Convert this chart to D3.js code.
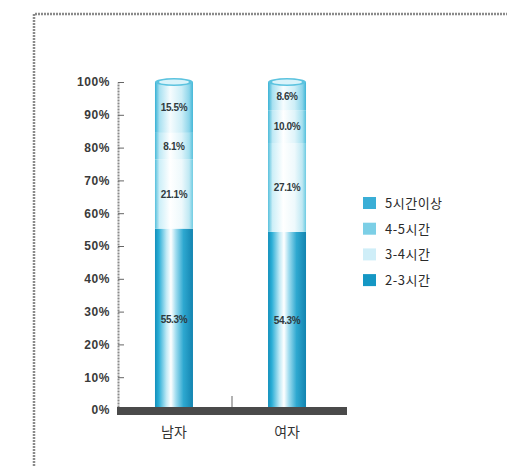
<!DOCTYPE html>
<html><head><meta charset="utf-8">
<script src="https://cdn.jsdelivr.net/npm/d3@7"></script>
<style>body{margin:0;background:#fff;}svg{display:block;}</style>
</head><body>
<svg id="c" width="507" height="466"></svg>
<script>
const categories = ["남자", "여자"];
const seriesNames = ["2-3시간", "3-4시간", "4-5시간", "5시간이상"];
const values = {
  "2-3시간": [55.3, 54.3],
  "3-4시간": [21.1, 27.1],
  "4-5시간": [8.1, 10.0],
  "5시간이상": [15.5, 8.6]
};
const yTicks = [0, 10, 20, 30, 40, 50, 60, 70, 80, 90, 100];
const legendOrder = ["5시간이상", "4-5시간", "3-4시간", "2-3시간"];

const svg = d3.select("#c");
const defs = svg.append("defs");

// frame
svg.append("path").attr("d", "M34,466 V14 H507")
  .attr("fill", "none").attr("stroke", "#8a8a8a").attr("stroke-width", 2.5)
  .attr("stroke-dasharray", "2,1");

const x = d3.scaleBand().domain(categories).range([117, 344]).paddingInner(0.664).paddingOuter(0.336);
const y = d3.scaleLinear().domain([0, 100]).range([410, 82]);

const grad = {
  "2-3시간": [[0, "#128fbb"], [0.1, "#2aaed6"], [0.3, "#bfe9f5"], [0.42, "#ffffff"], [0.55, "#9fdcef"], [0.75, "#2ea8d0"], [1, "#1384b0"]],
  "3-4시간": [[0, "#55bfdc"], [0.12, "#cdeff8"], [0.4, "#ffffff"], [0.7, "#eef9fc"], [0.9, "#bfe8f3"], [1, "#6ccbe2"]],
  "4-5시간": [[0, "#47b9d8"], [0.12, "#bfe9f5"], [0.4, "#ffffff"], [0.7, "#dff4fa"], [0.9, "#a6e0ef"], [1, "#55c0dc"]],
  "5시간이상": [[0, "#35b0d4"], [0.12, "#a9e1f1"], [0.4, "#f6fcfe"], [0.7, "#cdeef7"], [0.9, "#8cd5ea"], [1, "#3fb5d6"]]
};
const legendColor = {"5시간이상": "#3aaed6", "4-5시간": "#7ccfe6", "3-4시간": "#cfeef8", "2-3시간": "#1597c4"};

seriesNames.forEach((s, i) => {
  const g = defs.append("linearGradient").attr("id", "g" + i).attr("x1", 0).attr("x2", 1).attr("y1", 0).attr("y2", 0);
  grad[s].forEach(([o, c]) => g.append("stop").attr("offset", o).attr("stop-color", c));
});

const stack = d3.stack().keys(seriesNames)(categories.map((c, ci) => {
  const o = {cat: c};
  seriesNames.forEach(s => o[s] = values[s][ci]);
  return o;
}));

// y axis
const yAxis = d3.axisLeft(y).tickValues(yTicks).tickFormat(d => d + "%").tickSizeInner(-6).tickSizeOuter(0).tickPadding(8);
const ya = svg.append("g").attr("transform", "translate(118,0)").call(yAxis);
ya.select(".domain").attr("stroke", "#8a8a8a").attr("stroke-width", 2).attr("stroke-dasharray", "2,1");
ya.selectAll(".tick line").attr("stroke", "#666").attr("stroke-width", 1);
ya.selectAll(".tick text").attr("font-family", "Liberation Sans, Arial, sans-serif").attr("font-size", 12)
  .attr("font-weight", "bold").attr("fill", "#3a3a3a").attr("letter-spacing", 0.6);

// bars
const bars = svg.append("g");
stack.forEach((layer, li) => {
  bars.selectAll(null).data(layer).enter().append("rect")
    .attr("x", d => x(d.data.cat))
    .attr("width", x.bandwidth())
    .attr("y", d => y(d[1]))
    .attr("height", d => y(d[0]) - y(d[1]))
    .attr("fill", "url(#g" + li + ")");
});
// cylinder tops
bars.selectAll(null).data(stack[stack.length - 1]).enter().append("ellipse")
  .attr("cx", d => x(d.data.cat) + x.bandwidth() / 2)
  .attr("cy", d => y(d[1]))
  .attr("rx", x.bandwidth() / 2)
  .attr("ry", 4)
  .attr("fill", "#5cc3df");
bars.selectAll(null).data(stack[stack.length - 1]).enter().append("ellipse")
  .attr("cx", d => x(d.data.cat) + x.bandwidth() / 2)
  .attr("cy", d => y(d[1]))
  .attr("rx", x.bandwidth() / 2 - 4)
  .attr("ry", 2.5)
  .attr("fill", "#d9f3fa");

// value labels
stack.forEach((layer, li) => {
  bars.selectAll(null).data(layer).enter().append("text")
    .attr("x", d => x(d.data.cat) + x.bandwidth() / 2)
    .attr("y", d => (y(d[0]) + y(d[1])) / 2 + 3.5)
    .attr("text-anchor", "middle")
    .attr("font-family", "Liberation Sans, Arial, sans-serif")
    .attr("font-size", 10).attr("font-weight", "bold").attr("letter-spacing", -0.4)
    .attr("fill", "#2f3a40")
    .text(d => (d[1] - d[0]).toFixed(1) + "%");
});

// baseline
svg.append("rect").attr("x", 117).attr("y", 407).attr("width", 230).attr("height", 8).attr("fill", "#4a4a4a");
svg.append("line").attr("x1", 232).attr("x2", 232).attr("y1", 396).attr("y2", 407).attr("stroke", "#999").attr("stroke-width", 1.5);

// x labels
svg.append("g").selectAll("text").data(categories).enter().append("text")
  .attr("x", d => x(d) + x.bandwidth() / 2)
  .attr("y", 437)
  .attr("text-anchor", "middle")
  .attr("font-family", "Noto Sans CJK KR, sans-serif")
  .attr("font-size", 14).attr("fill", "#333")
  .text(d => d);

// legend
const lg = svg.append("g");
legendOrder.forEach((s, i) => {
  const yy = 203 + i * 25.7;
  lg.append("rect").attr("x", 363).attr("y", yy - 6).attr("width", 13).attr("height", 12).attr("fill", legendColor[s]);
  lg.append("text").attr("x", 385).attr("y", yy + 5)
    .attr("font-family", "Noto Sans CJK KR, sans-serif").attr("font-size", 13).attr("fill", "#2a2a2a")
    .attr("letter-spacing", 0.5)
    .text(s);
});
</script>
</body></html>
